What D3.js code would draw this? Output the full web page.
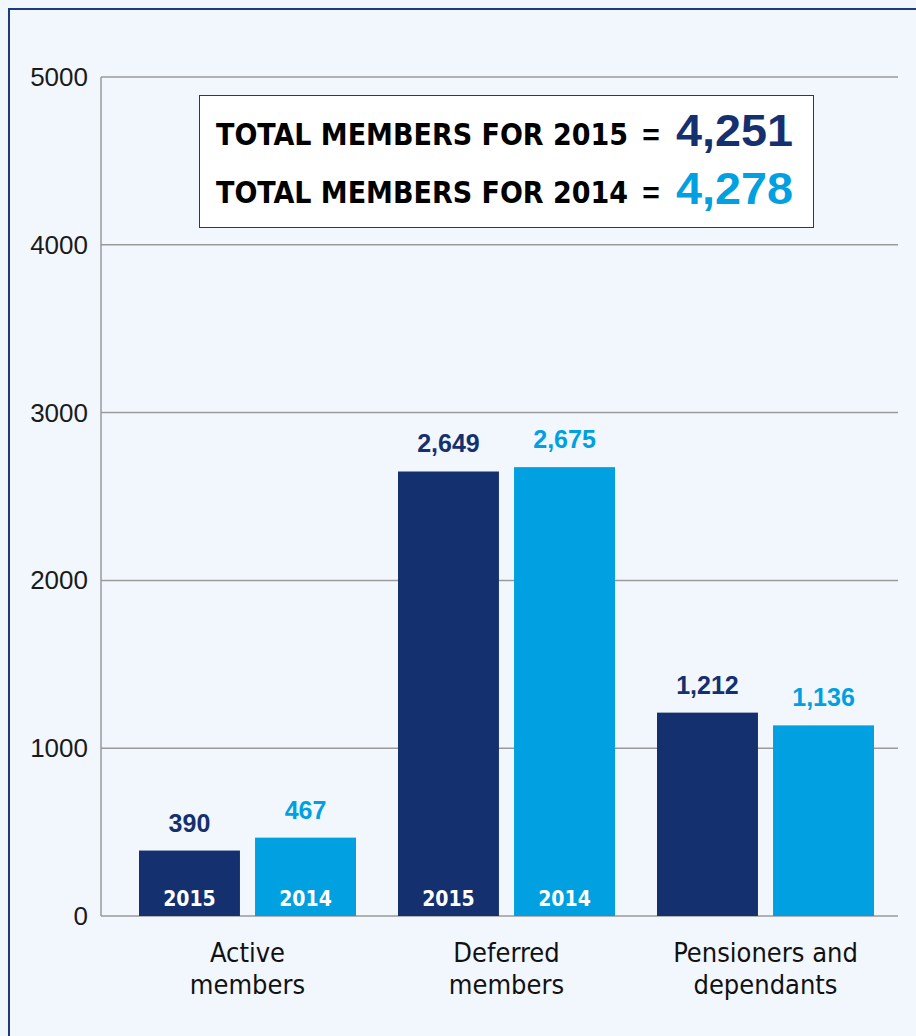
<!DOCTYPE html>
<html><head><meta charset="utf-8">
<script src="https://cdn.jsdelivr.net/npm/d3@7"></script>
<style>
html,body{margin:0;padding:0;background:#fff;}
svg{display:block;}
</style></head>
<body><svg id="c" width="916" height="1036"></svg>
<script>
const categories = [["Active","members"],["Deferred","members"],["Pensioners and","dependants"]];
const years = ["2015","2014"];
const values2015 = [390, 2649, 1212];
const values2014 = [467, 2675, 1136];
const showYearLabel = [true, true, false];
const yTicks = [0,1000,2000,3000,4000,5000];
const totals = [{year:"2015", total:"4,251"},{year:"2014", total:"4,278"}];

(function(){
const NAVY="#14306f", CYAN="#00a0e1", BG="#f2f7fd";
const narrow = "'Liberation Sans Narrow','Arial Narrow','DejaVu Sans Condensed',sans-serif";
const sans = "'Liberation Sans',Arial,sans-serif";

const svg = d3.select("#c");
svg.append("rect").attr("width",916).attr("height",1036).attr("fill",BG);
svg.append("rect").attr("x",9).attr("y",9).attr("width",940).attr("height",1060)
  .attr("fill","none").attr("stroke","#1d3a7a").attr("stroke-width",2);

const pLeft=101, pRight=898, pTop=77, pBottom=916;
const y = d3.scaleLinear().domain([0,5000]).range([pBottom,pTop]);
const x0 = d3.scaleBand().domain(d3.range(categories.length)).range([118,895]).paddingInner(0).paddingOuter(0);
const x1 = d3.scaleBand().domain(years).range([0,217]).paddingInner(0.13).paddingOuter(0);

const g = svg.append("g");
g.selectAll("line.grid").data(yTicks).enter().append("line")
  .attr("x1",pLeft).attr("x2",pRight).attr("y1",d=>y(d)).attr("y2",d=>y(d))
  .attr("stroke","#9a9a9a").attr("stroke-width",1.5);
g.append("line").attr("x1",pLeft).attr("x2",pLeft).attr("y1",y(5000)).attr("y2",y(0))
  .attr("stroke","#9a9a9a").attr("stroke-width",1.5);
g.selectAll("text.ytick").data(yTicks).enter().append("text")
  .attr("x",88).attr("y",d=>y(d)+9).attr("text-anchor","end")
  .attr("font-family",sans).attr("font-size",26).attr("fill","#1a1a1a").text(d=>d);

const data = categories.map((c,i)=>({i, vals:[{year:"2015",v:values2015[i],color:NAVY},{year:"2014",v:values2014[i],color:CYAN}]}));
const groups = svg.selectAll("g.grp").data(data).enter().append("g")
  .attr("transform",d=>`translate(${x0(d.i)+x0.bandwidth()/2-108.5},0)`);
groups.selectAll("rect").data(d=>d.vals).enter().append("rect")
  .attr("x",d=>x1(d.year)).attr("width",x1.bandwidth())
  .attr("y",d=>y(d.v)).attr("height",d=>y(0)-y(d.v)).attr("fill",d=>d.color);
groups.selectAll("text.val").data(d=>d.vals).enter().append("text")
  .attr("x",d=>x1(d.year)+x1.bandwidth()/2).attr("y",d=>y(d.v)-19)
  .attr("text-anchor","middle").attr("font-family",sans).attr("font-weight","bold")
  .attr("font-size",25).attr("fill",d=>d.color).text(d=>d3.format(",")(d.v));
groups.filter(d=>showYearLabel[d.i]).selectAll("text.yr").data(d=>d.vals).enter().append("text")
  .attr("x",d=>x1(d.year)+x1.bandwidth()/2).attr("y",y(0)-10)
  .attr("text-anchor","middle").attr("font-family",narrow).attr("font-weight","bold")
  .attr("font-size",21).attr("fill","#fff").text(d=>d.year);

categories.forEach((c,i)=>{
  const t = svg.append("text").attr("text-anchor","middle").attr("font-family",narrow)
    .attr("font-size",27).attr("fill","#111");
  c.forEach((line,k)=>{
    t.append("tspan").attr("x",x0(i)+x0.bandwidth()/2).attr("y",962+k*32).text(line);
  });
});

svg.append("rect").attr("x",199.5).attr("y",95.5).attr("width",614).attr("height",132)
  .attr("fill","#fff").attr("stroke","#1d3a7a").attr("stroke-width",1);
totals.forEach((t,k)=>{
  const yy = 145 + k*58;
  svg.append("text").attr("x",216).attr("y",yy).attr("font-family",narrow).attr("font-weight","bold")
    .attr("font-size",30).attr("fill","#000")
    .attr("textLength",412).attr("lengthAdjust","spacingAndGlyphs")
    .text(`TOTAL MEMBERS FOR ${t.year}`);
  svg.append("text").attr("x",651).attr("y",yy).attr("text-anchor","middle").attr("font-family",sans).attr("font-weight","bold")
    .attr("font-size",30).attr("fill","#000").text("=");
  svg.append("text").attr("x",676).attr("y",yy+1).attr("font-family",sans).attr("font-weight","bold")
    .attr("font-size",44).attr("fill",k===0?NAVY:CYAN)
    .attr("textLength",117).attr("lengthAdjust","spacingAndGlyphs").text(t.total);
});
})();
</script></body></html>
